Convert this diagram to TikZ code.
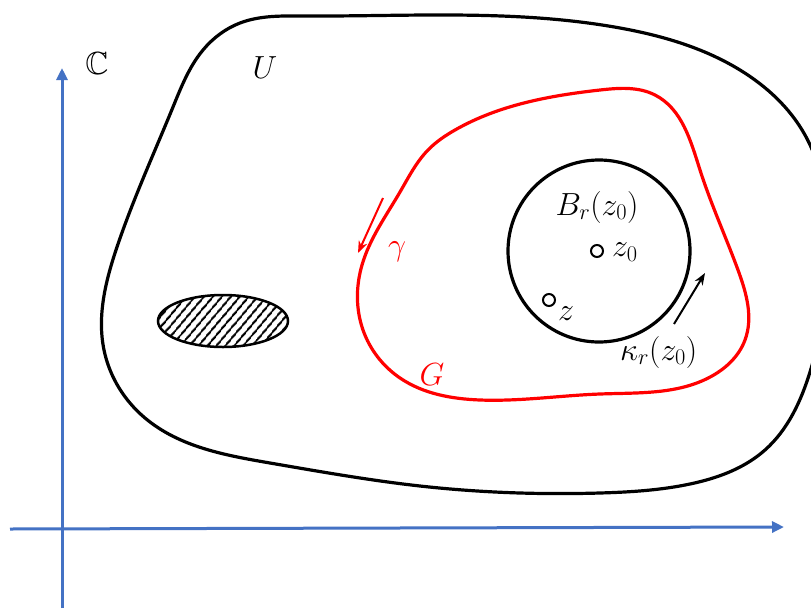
\RequirePackage{fix-cm}
\documentclass[tikz,border=0pt]{standalone}
\usepackage{amssymb}
\usetikzlibrary{arrows.meta,patterns.meta,hobby}
\definecolor{ejeazul}{HTML}{4472C4}
\begin{document}
\begin{tikzpicture}[x=1pt,y=-1pt,
    eje/.style={ejeazul, line width=3pt, -{Triangle[length=12pt,width=11pt]}},
    curva/.style={line width=3.2pt, line join=round},
    etiqueta/.style={font=\fontsize{32}{36}\selectfont, inner sep=0pt},
    punto/.style={draw, circle, line width=2pt, minimum size=12pt, inner sep=0pt},
    flecha/.style={line width=2pt, -{Stealth[length=12pt,width=9pt]}}]
    \useasboundingbox (0,0) rectangle (811,608);

    % Ejes
    \coordinate (xini) at (10,529);
    \coordinate (xfin) at (784,527);
    \coordinate (yini) at (62,608);
    \coordinate (yfin) at (62,68);
    \draw[eje] (xini) -- (xfin);
    \draw[eje] (yini) -- (yfin);
    \node[etiqueta] (lblC) at (97,63) {$\mathbb{C}$};

    % Conjunto U
    \draw[curva] plot[closed hobby] coordinates {
        (173,107) (203,50) (240,23) (302,16) (450,15)
        (620,28) (740,70) (805,135) (828,250) (810,372)
        (765,450) (690,484) (600,493) (420,486) (270,463)
        (145,418) (104,350) (117,247)};
    \node[etiqueta] (lblU) at (265,68) {$U$};

    % Elipse rayada
    \draw[line width=2.5pt, pattern={Lines[angle=50,distance=6.5pt,line width=2pt]}]
        (223,321) ellipse (65 and 26);

    % Region G
    \draw[curva, red] plot[closed hobby] coordinates {
        (455,130) (600,90) (655,95) (700,170) (738,270)
        (745,340) (712,376) (600,394) (480,400) (400,378)
        (363,330) (362,265) (400,192) (428,150)};
    \node[etiqueta, red] (lblG) at (432,375) {$G$};
    \coordinate (gini) at (383,198);
    \coordinate (gfin) at (358,253);
    \draw[flecha, red] (gini) -- (gfin);
    \node[etiqueta, red] (lblgamma) at (397,252) {$\gamma$};

    % Disco B_r(z_0)
    \node[draw, circle, line width=3.2pt, minimum size=182pt] (bola) at (599,251) {};
    \node[etiqueta] (lblB) at (597,207) {$B_r(z_0)$};
    \node[punto] (zo) at (597,251) {};
    \node[etiqueta, anchor=west] (lblzo) at (612,252) {$z_0$};
    \node[punto] (z) at (549,300) {};
    \node[etiqueta, anchor=west] (lblz) at (558,314) {$z$};
    \coordinate (kini) at (674,324);
    \coordinate (kfin) at (705,273);
    \draw[flecha] (kini) -- (kfin);
    \node[etiqueta, anchor=west] (lblkappa) at (620,352) {$\kappa_r(z_0)$};
\end{tikzpicture}
\end{document}
